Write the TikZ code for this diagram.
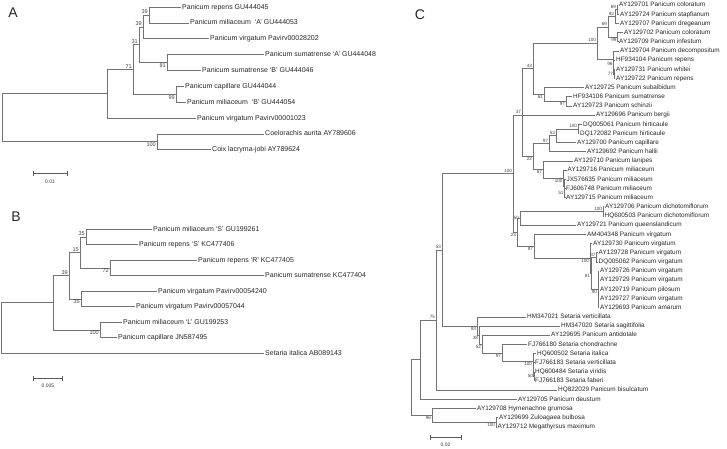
\documentclass[tikz,border=0pt]{standalone}
\usepackage{fontspec}
\setmainfont{Liberation Sans}
\usetikzlibrary{arrows.meta}

\begin{document}
\begin{tikzpicture}[x=1pt, y=-1pt,
				branch/.style={draw=black!55, line width=0.6pt},
				leaf/.style={anchor=west, inner xsep=1pt, inner ysep=0pt, text=black!85, text height=4.6pt, text depth=0.6pt, font=\fontsize{7}{8}\selectfont},
				cleaf/.style={leaf, text height=4.2pt, text depth=0.5pt, font=\fontsize{6.4}{7}\selectfont},
				bs/.style={inner sep=1pt, text=black!75, font=\fontsize{5.5}{6}\selectfont},
				cbs/.style={bs, inner sep=0.8pt, font=\fontsize{4.6}{5}\selectfont},
				letter/.style={text=black!85, font=\fontsize{14}{16}\selectfont},
				scalebar/.style={draw=black!65, line width=0.5pt, {Bar[width=5pt]}-{Bar[width=5pt]}},
				scaletext/.style={text=black!80, font=\fontsize{5}{6}\selectfont}
			]
			\useasboundingbox (0,0) rectangle (727,448);
			% panel A
			\node[letter] (labA) at (13,13) {A};
			\node[leaf] (Arep) at (181,7) {Panicum repens GU444045};
			\node[leaf] (AmilA) at (189,22.9) {Panicum miliaceum \ `A' GU444053};
			\node[leaf] (AvirA) at (209,38.7) {Panicum virgatum Pavirv00028202};
			\node[leaf] (AsumA) at (264,54.6) {Panicum sumatrense `A' GU444048};
			\node[leaf] (AsumB) at (201,70.4) {Panicum sumatrense `B' GU444046};
			\node[leaf] (Acap) at (184,86.3) {Panicum capillare GU444044};
			\node[leaf] (AmilB) at (186,102.1) {Panicum miliaceum \ `B' GU444054};
			\node[leaf] (Avir) at (196,118) {Panicum virgatum Pavirv00001023};
			\node[leaf] (Acoel) at (264,133.8) {Coelorachis aurita AY789606};
			\node[leaf] (Acoix) at (211,149.7) {Coix lacryma-jobi AY789624};
			\coordinate (a39a) at (149,14.9);
			\coordinate (a39b) at (143,26.8);
			\coordinate (asum) at (167,62.5);
			\coordinate (a31) at (139,44.7);
			\coordinate (acap) at (176,94.2);
			\coordinate (a71) at (133,69.4);
			\coordinate (apan) at (107,93.7);
			\coordinate (acoel) at (157,141.7);
			\coordinate (aroot) at (2,117.7);
			\begin{scope}[branch]
			\draw (a39a) |- (Arep.west) (a39a) |- (AmilA.west);
			\draw (a39b) |- (a39a) (a39b) |- (AvirA.west);
			\draw (asum) |- (AsumA.west) (asum) |- (AsumB.west);
			\draw (a31) |- (a39b) (a31) |- (asum);
			\draw (acap) |- (Acap.west) (acap) |- (AmilB.west);
			\draw (a71) |- (a31) (a71) |- (acap);
			\draw (apan) |- (a71) (apan) |- (Avir.west);
			\draw (acoel) |- (Acoel.west) (acoel) |- (Acoix.west);
			\draw (aroot) |- (apan) (aroot) |- (acoel);
			\end{scope}
			\node[bs, above left] (bsA1) at (a39a) {39};
			\node[bs, above left] (bsA2) at (a39b) {39};
			\node[bs, above left] (bsA3) at (a31) {31};
			\node[bs, above left] (bsA4) at (a71) {71};
			\node[bs, below left] (bsA5) at (asum) {81};
			\node[bs, below left] (bsA6) at (acap) {99};
			\node[bs, below left] (bsA7) at (acoel) {100};
			\coordinate (sA1) at (33,173);
			\coordinate (sA2) at (67,173);
			\draw[scalebar] (sA1) -- (sA2);
			\node[scaletext] (sAtext) at (50,182) {0.01};
			% panel B
			\node[letter] (labB) at (16,217) {B};
			\node[leaf] (BmilS) at (152,229) {Panicum miliaceum `S' GU199261};
			\node[leaf] (BrepS) at (138,244.5) {Panicum repens `S' KC477406};
			\node[leaf] (BrepR) at (197,260) {Panicum repens `R' KC477405};
			\node[leaf] (Bsum) at (264,275.5) {Panicum sumatrense KC477404};
			\node[leaf] (Bvir54) at (157,291) {Panicum virgatum Pavirv00054240};
			\node[leaf] (Bvir57) at (135,306.5) {Panicum virgatum Pavirv00057044};
			\node[leaf] (BmilL) at (122,322) {Panicum miliaceum `L' GU199253};
			\node[leaf] (Bcap) at (117,337.5) {Panicum capillare JN587495};
			\node[leaf] (Bset) at (264,353) {Setaria italica AB089143};
			\coordinate (b35a) at (86,236.8);
			\coordinate (b72) at (110,267.8);
			\coordinate (b15) at (80,252.3);
			\coordinate (b35b) at (81,298.8);
			\coordinate (b39) at (69,275.5);
			\coordinate (b100) at (100,329.8);
			\coordinate (bx) at (53,302.6);
			\coordinate (broot) at (1,327.8);
			\begin{scope}[branch]
			\draw (b35a) |- (BmilS.west) (b35a) |- (BrepS.west);
			\draw (b72) |- (BrepR.west) (b72) |- (Bsum.west);
			\draw (b15) |- (b35a) (b15) |- (b72);
			\draw (b35b) |- (Bvir54.west) (b35b) |- (Bvir57.west);
			\draw (b39) |- (b15) (b39) |- (b35b);
			\draw (b100) |- (BmilL.west) (b100) |- (Bcap.west);
			\draw (bx) |- (b39) (bx) |- (b100);
			\draw (broot) |- (bx) (broot) |- (Bset.west);
			\end{scope}
			\node[bs, above left] (bsB1) at (b35a) {35};
			\node[bs, above left] (bsB2) at (b15) {15};
			\node[bs, below left] (bsB3) at (b72) {72};
			\node[bs, above left] (bsB4) at (b39) {39};
			\node[bs, below left] (bsB5) at (b35b) {35};
			\node[bs, below left] (bsB6) at (b100) {100};
			\coordinate (sB1) at (33,378);
			\coordinate (sB2) at (62,378);
			\draw[scalebar] (sB1) -- (sB2);
			\node[scaletext] (sBtext) at (48,385.5) {0.005};
			% panel C
			\node[letter] (labC) at (420,15) {C};
			\node[cleaf] (AY129701) at (618,5.0) {AY129701 Panicum coloratum};
			\node[cleaf] (AY129724) at (619,14.2) {AY129724 Panicum stapfianum};
			\node[cleaf] (AY129707) at (619,23.3) {AY129707 Panicum dregeanum};
			\node[cleaf] (AY129702) at (623,32.5) {AY129702 Panicum coloratum};
			\node[cleaf] (AY129709) at (618,41.7) {AY129709 Panicum infestum};
			\node[cleaf] (AY129704) at (619,50.9) {AY129704 Panicum decompositum};
			\node[cleaf] (HF934104) at (615,60.0) {HF934104 Panicum repens};
			\node[cleaf] (AY129731) at (615,69.2) {AY129731 Panicum whitei};
			\node[cleaf] (AY129722) at (615,78.4) {AY129722 Panicum repens};
			\node[cleaf] (AY129725) at (584,87.5) {AY129725 Panicum subalbidum};
			\node[cleaf] (HF934106) at (572,96.7) {HF934106 Panicum sumatrense};
			\node[cleaf] (AY129723) at (572,105.9) {AY129723 Panicum schinzii};
			\node[cleaf] (AY129696) at (595,115.0) {AY129696 Panicum bergii};
			\node[cleaf] (DQ005061) at (582,124.2) {DQ005061 Panicum hirticaule};
			\node[cleaf] (DQ172082) at (579,133.4) {DQ172082 Panicum hirticaule};
			\node[cleaf] (AY129700) at (576,142.6) {AY129700 Panicum capillare};
			\node[cleaf] (AY129692) at (586,151.7) {AY129692 Panicum hallii};
			\node[cleaf] (AY129710) at (573,160.9) {AY129710 Panicum lanipes};
			\node[cleaf] (AY129716) at (566.5,170.1) {AY129716 Panicum miliaceum};
			\node[cleaf] (JX576635) at (565.5,179.2) {JX576635 Panicum miliaceum};
			\node[cleaf] (FJ606748) at (565,188.4) {FJ606748 Panicum miliaceum};
			\node[cleaf] (AY129715) at (565,197.6) {AY129715 Panicum miliaceum};
			\node[cleaf] (AY129706) at (604,206.7) {AY129706 Panicum dichotomiflorum};
			\node[cleaf] (HQ600503) at (603.5,215.9) {HQ600503 Panicum dichotomiflorum};
			\node[cleaf] (AY129721) at (576,225.1) {AY129721 Panicum queenslandicum};
			\node[cleaf] (AM404348) at (586,234.3) {AM404348 Panicum virgatum};
			\node[cleaf] (AY129730) at (592,243.4) {AY129730 Panicum virgatum};
			\node[cleaf] (AY129728) at (597.5,252.6) {AY129728 Panicum virgatum};
			\node[cleaf] (DQ005062) at (597.5,261.8) {DQ005062 Panicum virgatum};
			\node[cleaf] (AY129726) at (599,270.9) {AY129726 Panicum virgatum};
			\node[cleaf] (AY129729) at (599,280.1) {AY129729 Panicum virgatum};
			\node[cleaf] (AY129719) at (599,289.3) {AY129719 Panicum pilosum};
			\node[cleaf] (AY129727) at (599,298.4) {AY129727 Panicum virgatum};
			\node[cleaf] (AY129693) at (599,307.6) {AY129693 Panicum amarum};
			\node[cleaf] (HM347021) at (526,316.8) {HM347021 Setaria verticillata};
			\node[cleaf] (HM347020) at (560,326.0) {HM347020 Setaria sagittifolia};
			\node[cleaf] (AY129695) at (550,335.1) {AY129695 Panicum antidotale};
			\node[cleaf] (FJ766180) at (527,344.3) {FJ766180 Setaria chondrachne};
			\node[cleaf] (HQ600502) at (536,353.5) {HQ600502 Setaria italica};
			\node[cleaf] (FJ766183v) at (534,362.6) {FJ766183 Setaria verticillata};
			\node[cleaf] (HQ600484) at (534,371.8) {HQ600484 Setaria viridis};
			\node[cleaf] (FJ766183f) at (534,381.0) {FJ766183 Setaria faberi};
			\node[cleaf] (HQ822029) at (557,390.1) {HQ822029 Panicum bisulcatum};
			\node[cleaf] (AY129705) at (517,399.3) {AY129705 Panicum deustum};
			\node[cleaf] (AY129708) at (476,408.5) {AY129708 Hymenachne grumosa};
			\node[cleaf] (AY129699) at (498,417.7) {AY129699 Zuloagaea bulbosa};
			\node[cleaf] (AY129712) at (496.5,426.8) {AY129712 Megathyrsus maximum};
			\coordinate (c69a) at (617,9.6);
			\coordinate (c92) at (615,16.5);
			\coordinate (c99) at (617.5,37.1);
			\coordinate (c69b) at (608,26.8);
			\coordinate (c77) at (614,73.8);
			\coordinate (c96) at (613.5,66.9);
			\coordinate (crep) at (613,58.9);
			\coordinate (c100a) at (597,42.9);
			\coordinate (c97a) at (566,101.3);
			\coordinate (c61) at (544,94.4);
			\coordinate (c43) at (533,68.6);
			\coordinate (c100h) at (578,128.8);
			\coordinate (c53h) at (556,135.7);
			\coordinate (c97h) at (549,143.7);
			\coordinate (c51) at (564.5,193);
			\coordinate (cm2) at (564,186.1);
			\coordinate (c100m) at (563.5,178.1);
			\coordinate (c67) at (543,169.5);
			\coordinate (c22) at (533,156.6);
			\coordinate (c37) at (522,115);
			\coordinate (c100d) at (603,211.3);
			\coordinate (c50) at (520,218.2);
			\coordinate (c87v) at (596.5,257.2);
			\coordinate (c90) at (598,289.3);
			\coordinate (c81) at (591,273.2);
			\coordinate (c100v) at (590,258.3);
			\coordinate (c87) at (534,246.3);
			\coordinate (c23) at (517,232.2);
			\coordinate (c100) at (513,173.6);
			\coordinate (c50s) at (534,376.4);
			\coordinate (cs2) at (533.5,369.5);
			\coordinate (c100s) at (533,361.5);
			\coordinate (c97) at (502,352.9);
			\coordinate (c52) at (482,344);
			\coordinate (c38) at (479,335);
			\coordinate (c93) at (477,325.9);
			\coordinate (c53) at (442,249.8);
			\coordinate (c75) at (436,320);
			\coordinate (cd) at (420,359.6);
			\coordinate (cz) at (496,422.2);
			\coordinate (ch) at (432,415.3);
			\coordinate (croot) at (411,387.5);
			\begin{scope}[branch]
			\draw (c69a) |- (AY129701.west) (c69a) |- (AY129724.west);
			\draw (c92) |- (c69a) (c92) |- (AY129707.west);
			\draw (c99) |- (AY129702.west) (c99) |- (AY129709.west);
			\draw (c69b) |- (c92) (c69b) |- (c99);
			\draw (c77) |- (AY129731.west) (c77) |- (AY129722.west);
			\draw (c96) |- (HF934104.west) (c96) |- (c77);
			\draw (crep) |- (AY129704.west) (crep) |- (c96);
			\draw (c100a) |- (c69b) (c100a) |- (crep);
			\draw (c97a) |- (HF934106.west) (c97a) |- (AY129723.west);
			\draw (c61) |- (AY129725.west) (c61) |- (c97a);
			\draw (c43) |- (c100a) (c43) |- (c61);
			\draw (c100h) |- (DQ005061.west) (c100h) |- (DQ172082.west);
			\draw (c53h) |- (c100h) (c53h) |- (AY129700.west);
			\draw (c97h) |- (c53h) (c97h) |- (AY129692.west);
			\draw (c51) |- (FJ606748.west) (c51) |- (AY129715.west);
			\draw (cm2) |- (JX576635.west) (cm2) |- (c51);
			\draw (c100m) |- (AY129716.west) (c100m) |- (cm2);
			\draw (c67) |- (AY129710.west) (c67) |- (c100m);
			\draw (c22) |- (c97h) (c22) |- (c67);
			\draw (c37) |- (c43) (c37) |- (AY129696.west) (c37) |- (c22);
			\draw (c100d) |- (AY129706.west) (c100d) |- (HQ600503.west);
			\draw (c50) |- (c100d) (c50) |- (AY129721.west);
			\draw (c87v) |- (AY129728.west) (c87v) |- (DQ005062.west);
			\draw (c90) |- (AY129726.west) (c90) |- (AY129729.west) (c90) |- (AY129719.west)
				(c90) |- (AY129727.west) (c90) |- (AY129693.west);
			\draw (c81) |- (c87v) (c81) |- (c90);
			\draw (c100v) |- (AY129730.west) (c100v) |- (c81);
			\draw (c87) |- (AM404348.west) (c87) |- (c100v);
			\draw (c23) |- (c50) (c23) |- (c87);
			\draw (c100) |- (c37) (c100) |- (c23);
			\draw (c50s) |- (HQ600484.west) (c50s) |- (FJ766183f.west);
			\draw (cs2) |- (FJ766183v.west) (cs2) |- (c50s);
			\draw (c100s) |- (HQ600502.west) (c100s) |- (cs2);
			\draw (c97) |- (FJ766180.west) (c97) |- (c100s);
			\draw (c52) |- (AY129695.west) (c52) |- (c97);
			\draw (c38) |- (HM347020.west) (c38) |- (c52);
			\draw (c93) |- (HM347021.west) (c93) |- (c38);
			\draw (c53) |- (c100) (c53) |- (c93);
			\draw (c75) |- (c53) (c75) |- (HQ822029.west);
			\draw (cd) |- (c75) (cd) |- (AY129705.west);
			\draw (cz) |- (AY129699.west) (cz) |- (AY129712.west);
			\draw (ch) |- (AY129708.west) (ch) |- (cz);
			\draw (croot) |- (cd) (croot) |- (ch);
			\end{scope}
			\node[cbs, above left] (bsC1) at (c69a) {69};
			\node[cbs, above left] (bsC2) at (c92) {92};
			\node[cbs, below left] (bsC3) at (c99) {99};
			\node[cbs, above left] (bsC4) at (c69b) {69};
			\node[cbs, left] (bsC5) at (c77) {77};
			\node[cbs, above left] (bsC6) at (c96) {96};
			\node[cbs, above left] (bsC7) at (c100a) {100};
			\node[cbs, below left] (bsC8) at (c97a) {97};
			\node[cbs, below left] (bsC9) at (c61) {61};
			\node[cbs, above left] (bsC10) at (c43) {43};
			\node[cbs, above left] (bsC11) at (c100h) {100};
			\node[cbs, above left] (bsC12) at (c53h) {53};
			\node[cbs, above left] (bsC13) at (c97h) {97};
			\node[cbs, left] (bsC14) at (c51) {51};
			\node[cbs, below left] (bsC15) at (c100m) {100};
			\node[cbs, below left] (bsC16) at (c67) {67};
			\node[cbs, below left] (bsC17) at (c22) {22};
			\node[cbs, above left] (bsC18) at (c37) {37};
			\node[cbs, above left] (bsC19) at (c100d) {100};
			\node[cbs, left] (bsC20) at (c50) {50};
			\node[cbs, above left] (bsC21) at (c87v) {87};
			\node[cbs, below left] (bsC22) at (c90) {90};
			\node[cbs, below left] (bsC23) at (c81) {81};
			\node[cbs, below left] (bsC24) at (c100v) {100};
			\node[cbs, below left] (bsC25) at (c87) {87};
			\node[cbs, below left] (bsC26) at (c23) {23};
			\node[cbs, above left] (bsC27) at (c100) {100};
			\node[cbs, left] (bsC28) at (c50s) {50};
			\node[cbs, below left] (bsC29) at (c100s) {100};
			\node[cbs, below left] (bsC30) at (c97) {97};
			\node[cbs, below left] (bsC31) at (c52) {52};
			\node[cbs, below left] (bsC32) at (c38) {38};
			\node[cbs, below left] (bsC33) at (c93) {93};
			\node[cbs, above left] (bsC34) at (c53) {53};
			\node[cbs, above left] (bsC35) at (c75) {75};
			\node[cbs, below left] (bsC36) at (cz) {100};
			\node[cbs, below left] (bsC37) at (ch) {96};
			\coordinate (sC1) at (430,437);
			\coordinate (sC2) at (461,437);
			\draw[scalebar] (sC1) -- (sC2);
			\node[scaletext] (sCtext) at (445.5,444.5) {0.02};
			\end{tikzpicture}
\end{document}
